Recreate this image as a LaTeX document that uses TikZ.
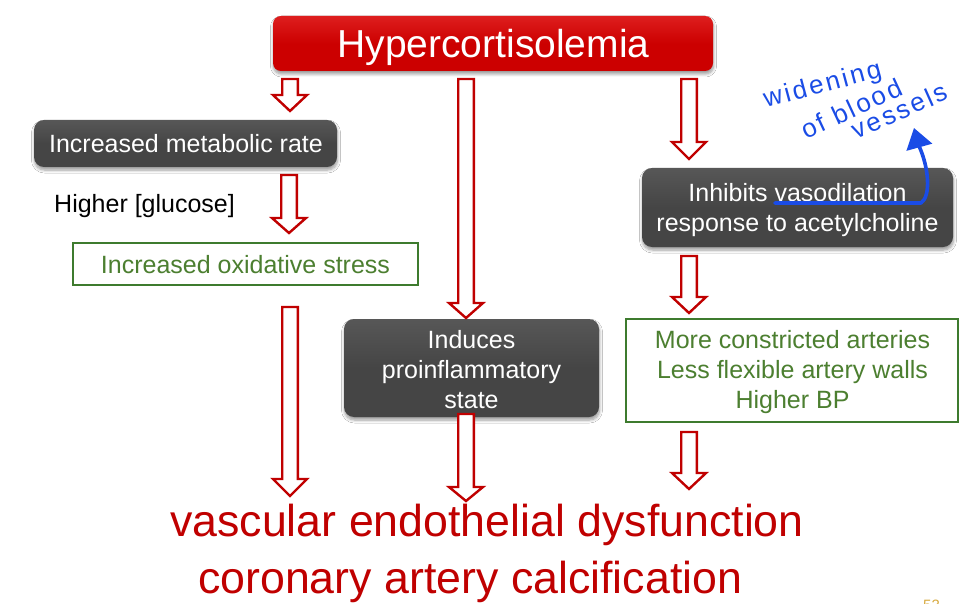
\documentclass[tikz,border=0pt]{standalone}
\usepackage{fontspec}
\setmainfont{Liberation Sans}
\newfontfamily\handfont{Liberation Sans}[LetterSpace=10]
\usetikzlibrary{shadows.blur,arrows.meta}
\definecolor{hred}{HTML}{CC0000}
\definecolor{hredtop}{HTML}{DE1E1E}
\definecolor{arrred}{HTML}{C00000}
\definecolor{dgray}{HTML}{454545}
\definecolor{dgraytop}{HTML}{575757}
\definecolor{gborder}{HTML}{3E7B2E}
\definecolor{gtext}{HTML}{4C7F30}
\definecolor{hblue}{HTML}{1A4CE6}
\definecolor{pgold}{HTML}{D8AA40}
\tikzset{
  boxshadow/.style={blur shadow={shadow xshift=0.5pt, shadow yshift=-3pt, shadow blur radius=3pt, shadow blur steps=6, shadow opacity=40}},
  redbox/.style={boxshadow, rounded corners=8pt, top color=hredtop, bottom color=hred, middle color=hred, draw=none, inner sep=0pt},
  graybox/.style={boxshadow, rounded corners=10pt, top color=dgraytop, bottom color=dgray, middle color=dgray, draw=none, inner sep=0pt},
  greenbox/.style={draw=gborder, line width=2.2pt, fill=white, inner sep=0pt},
  wtxt/.style={text=white, inner sep=0pt, anchor=base, font=\fontsize{25}{29}\selectfont},
  gtxt/.style={text=gtext, inner sep=0pt, anchor=base, font=\fontsize{25}{29}\selectfont},
  btxt/.style={text=arrred, inner sep=0pt, anchor=base west, font=\fontsize{44.7}{52}\selectfont},
  blockarrow/.style={draw=arrred, line width=2.4pt, fill=white, line join=miter},
  handtxt/.style={text=hblue, inner sep=0pt, anchor=base west, font=\handfont\fontsize{26}{30}\selectfont},
  handline/.style={draw=hblue, line width=3.6pt, line cap=round, line join=round},
}
\newcommand\dnarrow[4]{\draw[blockarrow] (#1-7.8,#2) -- (#1+7.8,#2) -- (#1+7.8,#3) -- (#1+17,#3) -- (#1,#4) -- (#1-17,#3) -- (#1-7.8,#3) -- cycle;}
\begin{document}
\begin{tikzpicture}[x=1pt,y=-1pt]
\useasboundingbox[fill=white] (0,0) rectangle (973,612);

% boxes
\node[redbox, minimum width=440pt, minimum height=55pt] (hyper) at (493,43.5) {};
\node[text=white, inner sep=0pt, anchor=base, font=\fontsize{39}{44}\selectfont] (hypertxt) at (493.5,58) {Hypercortisolemia};

\node[graybox, minimum width=303pt, minimum height=47pt] (metab) at (185.5,143.5) {};
\node[wtxt] (metabtxt) at (186,153) {Increased metabolic rate};

\node[text=black, inner sep=0pt, anchor=base west, font=\fontsize{25}{29}\selectfont] (gluc) at (54,213) {Higher [glucose]};

\node[greenbox, minimum width=345pt, minimum height=42pt] (oxid) at (245.5,264) {};
\node[gtxt] (oxidtxt) at (245.5,273) {Increased oxidative stress};

\node[graybox, minimum width=311pt, minimum height=79pt] (inhib) at (797.5,207.5) {};
\node[wtxt] (inhib1) at (797.5,202) {Inhibits vasodilation};
\node[wtxt] (inhib2) at (797.5,231) {response to acetylcholine};

\node[graybox, minimum width=255pt, minimum height=98pt] (infl) at (471.5,368) {};
\node[wtxt] (infl1) at (471.5,348) {Induces};
\node[wtxt] (infl2) at (471.5,378) {proinflammatory};
\node[wtxt] (infl3) at (471.5,408) {state};

\node[greenbox, minimum width=332pt, minimum height=103pt] (arter) at (792,370.5) {};
\node[gtxt] (arter1) at (792.5,348) {More constricted arteries};
\node[gtxt] (arter2) at (792.5,378) {Less flexible artery walls};
\node[gtxt] (arter3) at (792.5,408) {Higher BP};

% block arrows
\dnarrow{290}{79}{95}{111}
\dnarrow{289}{175}{218}{233}
\dnarrow{290}{307}{479}{496}
\dnarrow{466}{79}{303}{318}
\dnarrow{466}{414}{487}{501}
\dnarrow{689}{79}{142}{159}
\dnarrow{689}{256}{297}{313}
\dnarrow{689}{432}{473}{489}

% outcome
\node[btxt] (out1) at (170,536) {vascular endothelial dysfunction};
\node[btxt] (out2) at (198,593) {coronary artery calcification};

% handwriting
\coordinate (ulstart) at (775,203);
\coordinate (ulend) at (921,203);
\coordinate (arrtip) at (914,128);
\draw[handline] (ulstart) -- (ulend) .. controls (931,196) and (929,168) .. (919,146);
\draw[handline, -{Triangle[width=26pt,length=20pt]}] (919,146) -- (arrtip);
\node[handtxt, rotate=15] (hw1) at (766,108) {widening};
\node[handtxt, rotate=25] (hw2) at (806,140) {of blood};
\node[handtxt, rotate=24] (hw3) at (856,140) {vessels};

% page number (cut off at the slide's lower edge)
\begin{scope}
\clip (900,590) rectangle (973,603);
\node[text=pgold, inner sep=0pt, anchor=base west, font=\fontsize{15}{18}\selectfont] (pnum) at (923,610) {53};
\end{scope}
\end{tikzpicture}
\end{document}
